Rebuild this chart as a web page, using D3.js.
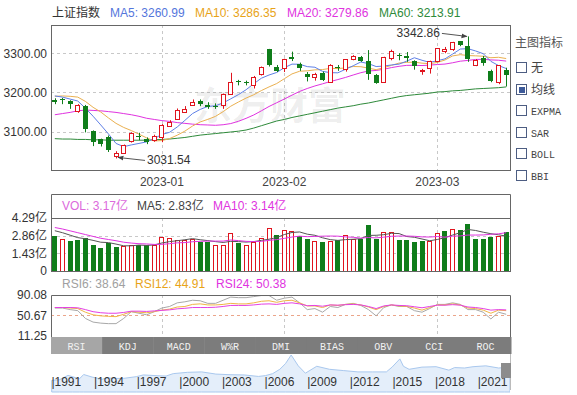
<!DOCTYPE html>
<html>
<head>
<meta charset="utf-8">
<script src="https://cdn.jsdelivr.net/npm/d3@7"></script>
<style>
  body { margin: 0; background: #fff; }
  text { font-family: 'Liberation Sans', Arial, 'Noto Sans CJK SC', sans-serif; }
</style>
</head>
<body>
<svg id="chart" width="577" height="395"></svg>
<script>
'use strict';

/* trading days shown in the window */
var dates = [
  '2022-12-13', '2022-12-14', '2022-12-15', '2022-12-16', '2022-12-19', '2022-12-20', '2022-12-21',
  '2022-12-22', '2022-12-23', '2022-12-26', '2022-12-27', '2022-12-28', '2022-12-29', '2022-12-30',
  '2023-01-03', '2023-01-04', '2023-01-05', '2023-01-06', '2023-01-09', '2023-01-10', '2023-01-11',
  '2023-01-12', '2023-01-13', '2023-01-16', '2023-01-17', '2023-01-18', '2023-01-19', '2023-01-20',
  '2023-01-30', '2023-01-31',
  '2023-02-01', '2023-02-02', '2023-02-03', '2023-02-06', '2023-02-07', '2023-02-08', '2023-02-09',
  '2023-02-10', '2023-02-13', '2023-02-14', '2023-02-15', '2023-02-16', '2023-02-17', '2023-02-20',
  '2023-02-21', '2023-02-22', '2023-02-23', '2023-02-24', '2023-02-27', '2023-02-28',
  '2023-03-01', '2023-03-02', '2023-03-03', '2023-03-06', '2023-03-07', '2023-03-08', '2023-03-09',
  '2023-03-10', '2023-03-13', '2023-03-14'
];

var opens = [3181, 3182, 3177, 3152, 3165, 3101, 3080, 3087, 3037, 3046, 3075, 3090, 3082, 3079,
  3087, 3114, 3132, 3151, 3168, 3178, 3168, 3166, 3168, 3198, 3228, 3227, 3219, 3246, 3311, 3266,
  3262, 3291, 3273, 3247, 3241, 3250, 3226, 3264, 3259, 3285, 3291, 3281, 3244, 3226, 3289, 3295,
  3293, 3280, 3255, 3262, 3279, 3306, 3310, 3331, 3318, 3270, 3289, 3255, 3226, 3257];
var closes = [3176.3, 3179.0, 3168.7, 3167.9, 3107.1, 3073.8, 3068.4, 3054.4, 3045.9, 3065.6, 3095.6,
  3087.4, 3073.7, 3089.3, 3116.5, 3123.5, 3155.2, 3157.6, 3176.1, 3169.5, 3161.8, 3163.5, 3195.3,
  3227.6, 3224.2, 3224.4, 3240.3, 3264.8, 3269.3, 3255.7, 3284.9, 3285.5, 3263.4, 3238.7, 3248.1,
  3232.1, 3270.4, 3260.7, 3284.2, 3293.3, 3280.5, 3249.0, 3224.0, 3290.3, 3306.5, 3291.2, 3287.5,
  3267.2, 3258.0, 3279.6, 3312.4, 3310.7, 3328.4, 3322.0, 3285.1, 3283.3, 3276.1, 3230.1, 3268.7, 3245.3];
var highs = [3185, 3186, 3180, 3170, 3168, 3103, 3082, 3090, 3050, 3067, 3098, 3097, 3085, 3092,
  3119, 3129, 3159, 3165, 3182, 3182, 3175, 3172, 3197, 3250, 3232, 3230, 3242, 3266, 3311, 3270,
  3286, 3304, 3276, 3252, 3250, 3253, 3272, 3270, 3285, 3295, 3293, 3308, 3247, 3291, 3309, 3300,
  3303, 3282, 3260, 3281, 3313, 3316, 3329, 3331, 3342.86, 3285, 3293, 3258, 3270, 3263];
var lows = [3170, 3170, 3158, 3148, 3098, 3063, 3062, 3048, 3031.54, 3043, 3072, 3078, 3068, 3074,
  3073, 3112, 3130, 3148, 3166, 3165, 3158, 3158, 3158, 3196, 3218, 3218, 3210, 3243, 3266, 3252,
  3252, 3280, 3255, 3228, 3230, 3229, 3224, 3255, 3253, 3282, 3278, 3232, 3222, 3224, 3282, 3282,
  3278, 3258, 3245, 3248, 3277, 3300, 3306, 3318, 3278, 3267, 3268, 3226, 3221, 3215];
var prevClose = 3179.0;

var ma5 = [3191, 3188, 3183, 3178, 3159.6, 3139.2, 3117, 3094.2, 3069.8, 3061.6, 3066, 3069.8, 3073.8,
  3082.4, 3092.6, 3098.2, 3111.8, 3128.6, 3146, 3156.6, 3164.2, 3165.8, 3173.2, 3183.6, 3194.4, 3206.8,
  3222.2, 3236.2, 3244.4, 3250.8, 3263, 3272.2, 3271.8, 3265.8, 3264.2, 3253.6, 3250.4, 3250, 3259,
  3268, 3277.6, 3273.4, 3266, 3267.2, 3270, 3272.2, 3279.8, 3288.4, 3282, 3276.6, 3280.8, 3285.6,
  3297.8, 3310.6, 3311.6, 3305.8, 3298.8, 3279.2, 3268.6, 3261];
var ma10 = [3190, 3191, 3190, 3188, 3177, 3162, 3150, 3135, 3121, 3110.6, 3102.6, 3093.4, 3084, 3076.1,
  3077.1, 3082.1, 3090.8, 3101.2, 3114.2, 3124.6, 3131.2, 3138.8, 3150.9, 3164.8, 3175.5, 3185.5, 3194,
  3204.7, 3214, 3222.6, 3234.9, 3247.2, 3254, 3255.1, 3257.5, 3258.3, 3261.3, 3260.9, 3262.4, 3266.1,
  3265.6, 3261.9, 3258, 3263.1, 3269, 3274.9, 3276.6, 3277.2, 3274.6, 3273.3, 3276.5, 3282.7, 3293.1,
  3296.3, 3294.1, 3293.3, 3292.2, 3288.5, 3289.6, 3286.4];
var ma20 = [3143, 3146, 3149, 3153, 3155, 3154, 3153, 3151, 3149, 3146, 3143, 3139, 3134, 3131, 3128,
  3126, 3123, 3121, 3119, 3117.6, 3116.9, 3116.1, 3117.5, 3120.5, 3126.3, 3133.8, 3142.4, 3153, 3164.1,
  3173.6, 3183.1, 3193, 3202.5, 3210, 3216.5, 3221.9, 3227.7, 3232.8, 3238.2, 3244.4, 3250.3, 3254.6,
  3256, 3259.1, 3263.3, 3266.6, 3269, 3269.1, 3268.5, 3269.7, 3271.1, 3272.3, 3275.6, 3279.7, 3281.6,
  3284.1, 3284.4, 3282.9, 3282.1, 3279.9];
var ma60 = [3082, 3081, 3081, 3080, 3080, 3079, 3079, 3078, 3078, 3078, 3078, 3078, 3078, 3079, 3080,
  3081, 3083, 3085, 3088, 3091, 3093, 3095, 3097, 3099, 3101, 3104, 3109, 3115, 3121, 3127, 3131, 3136,
  3140, 3144, 3148, 3152, 3156, 3160, 3163, 3166, 3170, 3173, 3177, 3181, 3185, 3189, 3192, 3194, 3196,
  3198, 3201, 3202, 3204, 3205, 3207, 3209, 3210, 3211, 3212, 3214];

/* volume, in 亿 */
var volumes = [2.80, 2.60, 2.41, 2.54, 2.70, 2.14, 1.85, 2.28, 1.93, 2.01, 2.14, 2.14, 2.14, 2.14, 2.78,
  2.68, 2.52, 2.52, 2.60, 2.33, 2.33, 2.14, 2.14, 3.04, 2.25, 2.12, 2.33, 2.68, 3.47, 2.94, 3.31, 3.20,
  2.86, 2.60, 2.46, 2.33, 2.46, 2.54, 2.91, 2.60, 2.60, 3.73, 2.60, 3.15, 3.15, 2.52, 2.52, 2.33, 2.41,
  2.46, 3.04, 3.26, 3.39, 3.34, 3.79, 2.60, 2.60, 2.78, 2.86, 3.17];
var volMa5 = [3.26, 3.10, 2.90, 2.70, 2.61, 2.48, 2.33, 2.30, 2.18, 2.04, 2.04, 2.10, 2.07, 2.11, 2.27,
  2.38, 2.45, 2.53, 2.62, 2.53, 2.46, 2.38, 2.31, 2.40, 2.38, 2.34, 2.38, 2.48, 2.57, 2.71, 2.95, 3.12,
  3.16, 2.98, 2.89, 2.69, 2.54, 2.48, 2.54, 2.57, 2.62, 2.88, 2.89, 2.94, 3.05, 3.03, 2.79, 2.73, 2.59,
  2.45, 2.55, 2.70, 2.91, 3.10, 3.36, 3.28, 3.14, 3.02, 2.93, 2.83];
var volMa10 = [3.52, 3.40, 3.25, 3.10, 2.95, 2.80, 2.65, 2.55, 2.45, 2.33, 2.26, 2.21, 2.19, 2.15, 2.16,
  2.21, 2.28, 2.30, 2.37, 2.40, 2.42, 2.42, 2.42, 2.51, 2.46, 2.40, 2.38, 2.40, 2.48, 2.54, 2.64, 2.75,
  2.82, 2.78, 2.80, 2.82, 2.83, 2.82, 2.76, 2.73, 2.66, 2.71, 2.68, 2.74, 2.81, 2.83, 2.83, 2.81, 2.76,
  2.75, 2.79, 2.74, 2.82, 2.84, 2.91, 2.91, 2.92, 2.97, 3.01, 3.10];

var rsi6 = [65, 65, 62, 60, 45, 38, 36, 35, 35, 45, 58, 55, 52, 58, 65, 68, 75, 77, 80, 79,
  74, 74, 80, 86, 85, 85, 87, 89, 89, 80, 84, 86, 75, 62, 64, 57, 68, 66, 72, 74,
  70, 62, 50, 66, 71, 68, 68, 60, 57, 64, 72, 72, 75, 72, 62, 62, 57, 44, 57, 53];
var rsi12 = [66, 66, 65, 64, 57, 52, 50, 49, 48.5, 53, 58, 57, 56, 58, 61, 63, 67, 68, 72, 73,
  71, 71, 72, 74, 73, 73, 75, 78, 79, 76, 79, 80, 75, 69, 69, 66, 71, 70, 72, 73,
  71, 67, 62, 68, 71, 69, 68, 65, 61, 66, 71, 71, 73, 71, 65, 64, 61, 55, 61, 60];
var rsi24 = [66, 66, 66, 65.5, 62, 58, 56, 55, 55, 56.5, 59, 59, 58.5, 59.5, 60.5, 61.5, 63.5, 64.5, 66, 66,
  66, 66.5, 68, 70, 70, 70, 71, 72.5, 73, 72, 74, 75, 73, 69.5, 70, 68.5, 71, 70.5, 71.5, 72,
  71, 68, 64, 69, 71, 70, 69.5, 67.5, 65.5, 68, 70.5, 70.5, 71.5, 70.5, 67, 66, 64, 61, 62, 61.5];

var priceTicks = [3100, 3200, 3300];
var volTicks = [0, 1.43, 2.86, 4.29];
var rsiTicks = [11.25, 50.67, 90.08];

var tabLabels = ['RSI', 'KDJ', 'MACD', 'W%R', 'DMI', 'BIAS', 'OBV', 'CCI', 'ROC'];
var indicatorOptions = ['无', '均线', 'EXPMA', 'SAR', 'BOLL', 'BBI'];

/* long-range index history for the navigator strip */
var historyYears = [1990.95, 1991.5, 1992.1, 1992.4, 1992.9, 1993.2, 1993.8, 1994.5, 1994.8, 1995.5,
  1996.0, 1996.9, 1997.4, 1998.5, 1999.0, 1999.5, 2000.5, 2001.5, 2002.5, 2003.5, 2004.5, 2005.5,
  2006.0, 2006.5, 2007.0, 2007.4, 2007.8, 2008.3, 2008.8, 2009.6, 2010.5, 2011.5, 2012.5, 2013.5,
  2014.5, 2014.9, 2015.45, 2015.7, 2016.1, 2017.0, 2018.0, 2018.9, 2019.3, 2020.0, 2020.6, 2021.5,
  2022.4, 2022.8, 2023.2];
var historyLevels = [130, 300, 1300, 1000, 500, 1500, 900, 400, 700, 600, 600, 1000, 1400, 1200, 1150,
  1700, 2000, 2100, 1600, 1450, 1400, 1050, 1250, 1700, 2700, 4000, 6000, 3500, 1800, 3400, 2700, 2400,
  2100, 2100, 2100, 3200, 5100, 3400, 2700, 3200, 3300, 2500, 3100, 3000, 3300, 3500, 3000, 3100, 3250];
var yearTicks = [1991, 1994, 1997, 2000, 2003, 2006, 2009, 2012, 2015, 2018, 2021];

var RED = '#e0141e',
    GREEN = '#0f7d1a',
    LEFT = 51,
    RIGHT = 510;

var svg = d3.select('#chart');

var x = d3.scaleBand().domain(dates).range([LEFT, RIGHT])
  .paddingInner(0.3).paddingOuter(0.15);
var bw = Math.round(x.bandwidth());

function cx(i) {
  return x(dates[i]) + x.bandwidth() / 2;
}
function bodyX(i) {
  return Math.round(cx(i) - bw / 2);
}

var yPrice = d3.scaleLinear().domain([3002, 3372]).range([170, 25]);
var yVol = d3.scaleLinear().domain([0, 4.29]).range([271, 218]);
var yRsi = d3.scaleLinear().domain([11.25, 90.08]).range([336, 295]);

// first trading day of each month -> vertical guides
var monthStarts = dates.filter(function (d, i) {
  return i > 0 && d.slice(5, 7) !== dates[i - 1].slice(5, 7);
});

var defs = svg.append('defs');
function clip(id, y0, y1) {
  defs.append('clipPath').attr('id', id).append('rect')
    .attr('x', LEFT).attr('y', y0).attr('width', RIGHT - LEFT).attr('height', y1 - y0);
}
clip('clipMain', 25, 170);
clip('clipVol', 218, 272);
clip('clipRsi', 295, 337);
clip('clipNav', 354, 395);

defs.append('marker')
  .attr('id', 'arrow')
  .attr('viewBox', '0 0 10 10')
  .attr('refX', 9).attr('refY', 5)
  .attr('markerWidth', 6).attr('markerHeight', 6)
  .attr('orient', 'auto')
  .append('path').attr('d', 'M 0 1 L 10 5 L 0 9 z').attr('fill', '#444');

function vGuides(g, y0, y1) {
  g.selectAll('line.vguide').data(monthStarts).enter().append('line')
    .attr('class', 'vguide')
    .attr('x1', function (d) { return Math.round(cx(dates.indexOf(d))) + 0.5; })
    .attr('x2', function (d) { return Math.round(cx(dates.indexOf(d))) + 0.5; })
    .attr('y1', y0).attr('y2', y1)
    .attr('stroke', '#c8c8c8').attr('stroke-dasharray', '3,3');
}
function hGuides(g, ticks, scale, color) {
  g.selectAll('line.hguide').data(ticks).enter().append('line')
    .attr('class', 'hguide')
    .attr('x1', LEFT).attr('x2', RIGHT)
    .attr('y1', function (d) { return Math.round(scale(d)) + 0.5; })
    .attr('y2', function (d) { return Math.round(scale(d)) + 0.5; })
    .attr('stroke', color || '#c8c8c8').attr('stroke-dasharray', '3,3');
}
function leftAxis(scale, ticks, fmt) {
  var g = svg.append('g').attr('transform', 'translate(' + LEFT + ',0)')
    .call(d3.axisLeft(scale).tickValues(ticks).tickFormat(fmt).tickSize(0).tickPadding(4));
  g.select('.domain').remove();
  g.selectAll('text').attr('fill', '#333').style('font-size', '12px');
  return g;
}
function legend(y, items) {
  svg.append('g').selectAll('text').data(items).enter().append('text')
    .attr('x', function (d) { return d[0]; })
    .attr('y', y)
    .attr('fill', function (d) { return d[2]; })
    .style('font-size', '12px')
    .text(function (d) { return d[1]; });
}
function seriesLine(g, values, scale, color, width) {
  g.append('path').datum(values)
    .attr('fill', 'none').attr('stroke', color).attr('stroke-width', width || 1)
    .attr('d', d3.line().x(function (d, i) { return cx(i); }).y(function (d) { return scale(d); }));
}

/* ---------- main candle panel ---------- */
legend(17, [
  [52, '上证指数', '#333'],
  [110, 'MA5: 3260.99', '#5476dc'],
  [195, 'MA10: 3286.35', '#e8a317'],
  [287, 'MA20: 3279.86', '#e033e0'],
  [379, 'MA60: 3213.91', '#2e8a3a']
]);

var main = svg.append('g').attr('clip-path', 'url(#clipMain)');
hGuides(main, priceTicks, yPrice);
vGuides(main, 25, 170);

main.append('text')
  .attr('x', 270).attr('y', 119)
  .attr('text-anchor', 'middle')
  .attr('fill', '#000').attr('fill-opacity', 0.07)
  .style('font-size', '38px').style('font-weight', 'bold')
  .style('font-family', "'Noto Sans CJK SC', sans-serif")
  .text('东方财富');

seriesLine(main, ma60, yPrice, '#2e8a3a');
seriesLine(main, ma20, yPrice, '#e033e0');
seriesLine(main, ma10, yPrice, '#eab050');
seriesLine(main, ma5, yPrice, '#5f80e6');

var candle = main.selectAll('g.candle').data(dates).enter().append('g').attr('class', 'candle');
candle.append('line')
  .attr('x1', function (d, i) { return Math.round(cx(i)) + 0.5; })
  .attr('x2', function (d, i) { return Math.round(cx(i)) + 0.5; })
  .attr('y1', function (d, i) { return yPrice(highs[i]); })
  .attr('y2', function (d, i) { return yPrice(lows[i]); })
  .attr('stroke', function (d, i) { return closes[i] >= opens[i] ? RED : GREEN; });
candle.append('rect')
  .each(function (d, i) {
    var up = closes[i] >= opens[i],
        top = yPrice(Math.max(opens[i], closes[i])),
        bot = yPrice(Math.min(opens[i], closes[i])),
        r = d3.select(this);
    if (up) {
      r.attr('x', bodyX(i) + 0.5).attr('y', Math.round(top) + 0.5)
        .attr('width', bw - 1).attr('height', Math.max(1, Math.round(bot - top)))
        .attr('fill', '#fff').attr('stroke', RED);
    } else {
      r.attr('x', bodyX(i)).attr('y', Math.round(top))
        .attr('width', bw).attr('height', Math.max(1, Math.round(bot - top)))
        .attr('fill', GREEN);
    }
  });

// max / min annotations
var iMax = d3.maxIndex(highs), iMin = d3.minIndex(lows);
var pMax = [cx(iMax), yPrice(highs[iMax])], pMin = [cx(iMin), yPrice(lows[iMin])];
svg.append('line')
  .attr('x1', pMax[0] - 26).attr('y1', pMax[1] - 3)
  .attr('x2', pMax[0] - 1).attr('y2', pMax[1])
  .attr('stroke', '#555').attr('marker-end', 'url(#arrow)');
svg.append('text')
  .attr('x', pMax[0] - 28).attr('y', pMax[1] + 1)
  .attr('text-anchor', 'end').attr('fill', '#333').style('font-size', '12px')
  .text(d3.format('.2f')(highs[iMax]));
svg.append('line')
  .attr('x1', pMin[0] + 29).attr('y1', pMin[1] + 2)
  .attr('x2', pMin[0] + 2).attr('y2', pMin[1] - 1)
  .attr('stroke', '#555').attr('marker-end', 'url(#arrow)');
svg.append('text')
  .attr('x', pMin[0] + 31).attr('y', pMin[1] + 6)
  .attr('fill', '#333').style('font-size', '12px')
  .text(d3.format('.2f')(lows[iMin]));

svg.append('rect')
  .attr('x', LEFT + 0.5).attr('y', 25.5).attr('width', RIGHT - LEFT).attr('height', 145)
  .attr('fill', 'none').attr('stroke', '#666');
leftAxis(yPrice, priceTicks, d3.format('.2f'));

var dateAxis = svg.append('g').attr('transform', 'translate(0,170)')
  .call(d3.axisBottom(x).tickValues(monthStarts)
    .tickFormat(function (d) { return d.slice(0, 7); }).tickSize(0).tickPadding(7));
dateAxis.select('.domain').remove();
dateAxis.selectAll('text').attr('fill', '#444').style('font-size', '12px');

/* ---------- volume panel ---------- */
legend(210, [
  [62, 'VOL: 3.17亿', '#dc6adc'],
  [137, 'MA5: 2.83亿', '#444'],
  [213, 'MA10: 3.14亿', '#e033e0']
]);
var vol = svg.append('g').attr('clip-path', 'url(#clipVol)');
hGuides(vol, [1.43, 2.86], yVol);
vGuides(vol, 218, 271);
vol.selectAll('rect.vbar').data(volumes).enter().append('rect')
  .attr('class', 'vbar')
  .each(function (v, i) {
    var up = closes[i] >= (i ? closes[i - 1] : prevClose),
        top = Math.round(yVol(v)),
        r = d3.select(this);
    if (up) {
      r.attr('x', bodyX(i) + 0.5).attr('y', top + 0.5)
        .attr('width', bw - 1).attr('height', yVol(0) - top)
        .attr('fill', '#fff').attr('stroke', RED);
    } else {
      r.attr('x', bodyX(i)).attr('y', top)
        .attr('width', bw).attr('height', yVol(0) - top + 1)
        .attr('fill', GREEN);
    }
  });
seriesLine(vol, volMa5, yVol, '#555');
seriesLine(vol, volMa10, yVol, '#e033e0');

svg.append('path')
  .attr('d', 'M' + (LEFT + 0.5) + ',272 V194.5 H' + (RIGHT + 0.5) + ' V272 M' + LEFT + ',218.5 H' + RIGHT +
    ' M' + LEFT + ',271.5 H' + RIGHT)
  .attr('fill', 'none').attr('stroke', '#666');
leftAxis(yVol, volTicks, function (d) { return d === 0 ? '0' : d.toFixed(2) + '亿'; });

/* ---------- RSI panel ---------- */
legend(288, [
  [62, 'RSI6: 38.64', '#a0a0a0'],
  [135, 'RSI12: 44.91', '#e8a317'],
  [216, 'RSI24: 50.38', '#e033e0']
]);
var rsi = svg.append('g').attr('clip-path', 'url(#clipRsi)');
hGuides(rsi, [50.67], yRsi, '#eba58a');
vGuides(rsi, 295, 337);
seriesLine(rsi, rsi6, yRsi, '#a8a8a8');
seriesLine(rsi, rsi12, yRsi, '#f0b545');
seriesLine(rsi, rsi24, yRsi, '#e440e4');
svg.append('path')
  .attr('d', 'M' + (LEFT + 0.5) + ',337 V295.5 H' + (RIGHT + 0.5) + ' V337')
  .attr('fill', 'none').attr('stroke', '#666');
leftAxis(yRsi, rsiTicks, d3.format('.2f'));

/* ---------- indicator tabs ---------- */
var tabX = d3.scaleBand().domain(tabLabels).range([LEFT, RIGHT + 1]);
var tabs = svg.append('g').selectAll('g').data(tabLabels).enter().append('g');
tabs.append('rect')
  .attr('x', function (d) { return tabX(d); }).attr('y', 337)
  .attr('width', tabX.bandwidth() + 0.5).attr('height', 17)
  .attr('fill', function (d, i) { return i === 0 ? '#a6a6a6' : '#7c7c7c'; });
tabs.append('text')
  .attr('x', function (d) { return tabX(d) + tabX.bandwidth() / 2; }).attr('y', 349.5)
  .attr('text-anchor', 'middle').attr('fill', '#f2f2f2')
  .style('font-size', '10px').style('font-family', "'Liberation Mono', monospace")
  .text(function (d) { return d; });

/* ---------- history navigator ---------- */
var xYear = d3.scaleLinear().domain([1990.9, 2023.2]).range([LEFT, RIGHT]);
var yHist = d3.scaleLinear().domain([0, 6000]).range([381, 355]);
var nav = svg.append('g').attr('clip-path', 'url(#clipNav)');
nav.append('path').datum(historyLevels)
  .attr('fill', '#e4eefa').attr('stroke', '#a9c8ee')
  .attr('d', d3.area()
    .x(function (d, i) { return xYear(historyYears[i]); })
    .y0(392).y1(function (d) { return yHist(d); }));
nav.selectAll('text.year').data(yearTicks).enter().append('text')
  .attr('class', 'year')
  .attr('x', function (d) { return xYear(d) - 1; }).attr('y', 386)
  .attr('fill', '#333').style('font-size', '12px')
  .text(function (d) { return '|' + d; });
svg.append('line')
  .attr('x1', RIGHT + 0.5).attr('x2', RIGHT + 0.5).attr('y1', 354).attr('y2', 390)
  .attr('stroke', '#bbb');
svg.append('rect')
  .attr('x', RIGHT - 9).attr('y', 363).attr('width', 10).attr('height', 15)
  .attr('fill', '#8c8c8c');

/* ---------- main indicator selector ---------- */
svg.append('text')
  .attr('x', 515).attr('y', 47).attr('fill', '#555').style('font-size', '12px')
  .text('主图指标');
var opt = svg.append('g').selectAll('g').data(indicatorOptions).enter().append('g')
  .attr('transform', function (d, i) { return 'translate(516,' + Math.round(62 + i * 21.6) + ')'; });
opt.append('rect')
  .attr('x', 0.5).attr('y', 0.5).attr('width', 10).attr('height', 10)
  .attr('fill', '#fff').attr('stroke', '#4d5d82');
opt.filter(function (d, i) { return i === 1; }).append('rect')
  .attr('x', 3).attr('y', 3).attr('width', 6).attr('height', 6).attr('fill', '#3d5a99');
opt.append('text')
  .attr('x', 15).attr('y', 10)
  .attr('fill', '#444')
  .style('font-size', function (d) { return /^[A-Z]/.test(d) ? '10px' : '12px'; })
  .style('font-family', function (d) {
    return /^[A-Z]/.test(d) ? "'Liberation Mono', monospace" : "'Noto Sans CJK SC', sans-serif";
  })
  .text(function (d) { return d; });
</script>
</body>
</html>
